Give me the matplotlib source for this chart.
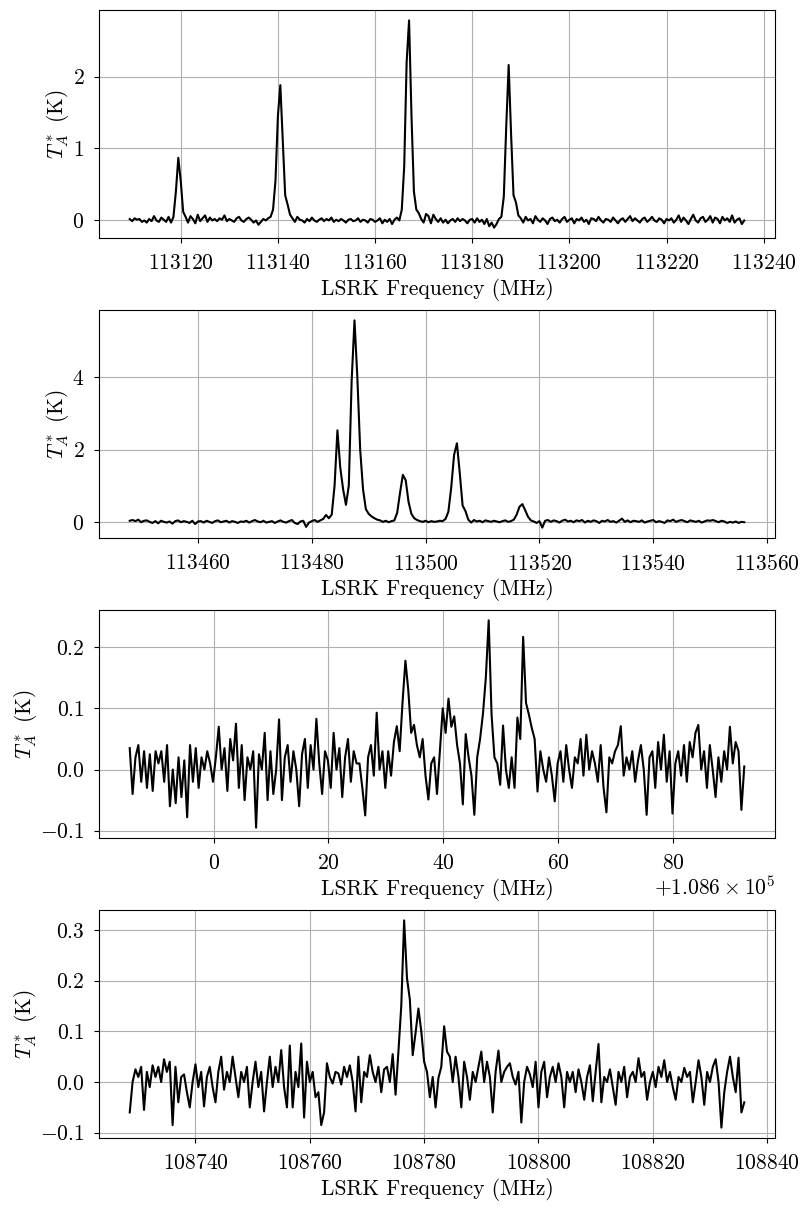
import numpy as np
import matplotlib
matplotlib.use("Agg")
import matplotlib.pyplot as plt
from matplotlib.transforms import ScaledTranslation

plt.rcParams['font.family'] = 'serif'
plt.rcParams['font.serif'] = ['cmr10']
plt.rcParams['mathtext.fontset'] = 'cm'
plt.rcParams['axes.formatter.use_mathtext'] = True
plt.rcParams['font.size'] = 15.5
plt.rcParams['xtick.major.pad'] = 8
plt.rcParams['ytick.major.pad'] = 7

# ---------------- data (LSRK frequency in MHz, T_A^* in K) ----------------
f1_start, f1_step = 113109.5, 0.5
t1 = [0.02, -0.01, 0.03, 0.01, 0.02, -0.02, 0.0, -0.03, 0.02, -0.01, 0.06, 0.0, -0.02, 0.04, 0.01, -0.02, 0.05, -0.03, 0.05,
      0.40, 0.87, 0.55, 0.12, 0.05,
      -0.03, 0.06, 0.02, -0.04, 0.08, -0.01, 0.03, 0.07, -0.02, 0.04, 0.0, 0.02, -0.01, 0.03, 0.01, 0.07, -0.01, 0.02, 0.0, -0.02,
      0.03, 0.05, 0.0, -0.02, 0.02, 0.04, 0.01, -0.03, 0.0, -0.06, -0.02, 0.02, 0.0, 0.03,
      0.05, 0.15, 0.55, 1.45, 1.88, 1.10, 0.35, 0.22, 0.08,
      0.03, -0.02, 0.05, 0.01, 0.0, -0.03, 0.02, -0.01, 0.04, 0.0, -0.02, 0.01, 0.03, -0.01, 0.02, 0.0, 0.04, -0.02, 0.01, -0.01,
      0.02, 0.0, -0.03, 0.01, 0.02, -0.01, 0.0, 0.03, -0.02, 0.01, 0.0, -0.03, 0.02, 0.01, -0.02, 0.0, 0.03, -0.04, 0.01, -0.02,
      0.02, -0.05, 0.01, 0.04, 0.0,
      0.15, 0.75, 2.2, 2.78, 1.45, 0.40, 0.15, 0.10,
      0.02, -0.03, 0.09, 0.06, -0.04, 0.08, 0.02, -0.02, 0.03, -0.03, 0.01, -0.04, 0.0, 0.02, -0.02, 0.03, -0.01, 0.02, 0.0, -0.04,
      0.01, 0.02, -0.03, 0.03, -0.02, 0.01, -0.05, 0.02, -0.08, -0.03, -0.10, -0.05, 0.02,
      0.05, 0.33, 1.3, 2.16, 1.2, 0.35, 0.25, 0.07,
      0.03, -0.03, 0.05, 0.0, 0.02, -0.04, 0.06, 0.01, -0.02, 0.03, 0.0, -0.05, 0.02, 0.04, -0.01, 0.01, -0.03, 0.02, 0.05, -0.02,
      0.01, 0.03, -0.04, 0.02, 0.0, 0.04, -0.02, 0.01, -0.05, 0.03, 0.02, -0.01, 0.05, 0.0, -0.03, 0.02, 0.01, -0.02, 0.04, 0.0,
      -0.04, 0.01, 0.03, -0.02, 0.02, 0.06, -0.01, 0.03, 0.0, -0.03, 0.02, 0.04, -0.02, 0.01, 0.05, 0.0, -0.02, 0.03, 0.01, -0.04,
      0.02, 0.0, 0.03, -0.03, 0.01, 0.07, -0.02, 0.04, 0.0, -0.05, 0.02, 0.08, 0.0, -0.03, 0.03, 0.05, -0.02, 0.01, 0.06, -0.03,
      0.04, 0.02, -0.04, 0.05, 0.0, 0.03, -0.02, 0.07, -0.03, 0.01, 0.03, -0.05, 0.0]

f2_start, f2_step = 113448.0, 0.5
t2 = [0.03, 0.05, 0.02, 0.06, -0.01, 0.03, 0.04, 0.0, -0.03, 0.02, -0.04, 0.03, 0.0, -0.02, 0.01, -0.05, 0.02, 0.04, -0.01, 0.02,
      0.0, -0.03, 0.03, -0.06, 0.01, 0.02, -0.02, 0.03, 0.0, -0.03, 0.02, 0.04, -0.01, 0.01, 0.03, -0.02, 0.02, 0.0, -0.03, 0.01,
      0.0, 0.03, -0.02, 0.02, 0.05, 0.01, -0.01, 0.03, -0.02, 0.0, 0.02, -0.03, 0.01, 0.04, 0.0, -0.02, 0.02, 0.05, -0.03, -0.06,
      0.01, 0.03, -0.14, -0.02, 0.02, 0.05, 0.0, 0.04, 0.08, 0.19,
      0.10, 0.20, 1.0, 2.53, 1.5, 0.9, 0.47, 1.0, 3.9, 5.57, 4.0, 2.0, 0.9, 0.35, 0.22, 0.15, 0.10, 0.06,
      0.04, 0.0, 0.03, -0.01, 0.02, 0.04,
      0.25, 0.8, 1.3, 1.15, 0.55, 0.22, 0.10, 0.05,
      0.02, 0.0, 0.03, -0.01, 0.02, 0.0, 0.01, 0.03, 0.02, 0.08,
      0.28, 0.95, 1.85, 2.17, 1.35, 0.45, 0.30, 0.06,
      -0.02, 0.05, 0.01, 0.03, -0.01, 0.04, 0.02, 0.0, 0.03, 0.01, -0.01, 0.02, 0.04, 0.0, 0.02, 0.06,
      0.20, 0.42, 0.49, 0.32, 0.14, 0.04,
      0.01, -0.03, 0.02, -0.16, 0.03, 0.05, 0.0, 0.04, 0.02, -0.02, 0.03, 0.06, 0.01, 0.03, -0.01, 0.04, 0.02, 0.05, -0.02, 0.03,
      0.0, 0.04, 0.02, -0.03, 0.03, 0.01, 0.05, 0.0, 0.02, -0.02, 0.03, 0.09, 0.0, 0.04, -0.01, 0.03, 0.02, 0.0, 0.04, -0.02,
      0.01, 0.03, 0.05, -0.01, 0.02, 0.0, -0.03, 0.04, 0.02, 0.06, 0.0, 0.03, 0.05, 0.02, -0.01, 0.04, 0.02, 0.0, 0.03, -0.02,
      0.01, 0.04, 0.03, 0.05, 0.02, -0.01, 0.03, 0.01, -0.03, 0.0, -0.02, 0.01, -0.03, 0.0, -0.01]

f3_start, f3_step = 108585.4, 0.5
t3 = [0.035, -0.04, 0.02, 0.04, -0.02, 0.03, -0.03, 0.025, -0.035, 0.03,
      0.01, 0.03, -0.02, 0.04, -0.06, 0.0, -0.055, 0.02, -0.045, 0.015,
      -0.078, 0.04, -0.02, 0.035, -0.03, 0.02, 0.0, 0.03, 0.01, -0.02,
      0.02, 0.07, 0.0, 0.035, -0.035, 0.05, 0.015, 0.075, -0.03, 0.04,
      -0.05, 0.02, 0.0, 0.03, -0.095, 0.025, 0.0, 0.06, -0.05, 0.03,
      -0.04, 0.0, 0.082, -0.05, 0.02, 0.04, -0.02, 0.03, 0.0, -0.06,
      0.025, 0.05, -0.03, 0.04, 0.0, 0.083, 0.01, -0.04, 0.03, 0.015,
      -0.03, 0.06, 0.0, 0.035, -0.045, 0.02, 0.05, -0.02, 0.03, 0.01,
      0.01, -0.03, -0.075, 0.02, 0.04, -0.01, 0.093, 0.0, 0.03, -0.03,
      0.03, -0.01, 0.045, 0.071, 0.03, 0.11, 0.178, 0.13, 0.06, 0.073,
      0.04, 0.02, 0.05, -0.01, -0.049, 0.01, 0.02, -0.04, 0.03, 0.10,
      0.06, 0.116, 0.07, 0.087, 0.04, 0.01, -0.057, 0.058, 0.02, -0.01,
      -0.074, 0.02, 0.05, 0.091, 0.15, 0.244, 0.09, 0.02, 0.01, -0.025,
      0.072, 0.0, -0.03, 0.02, -0.03, 0.085, 0.05, 0.217, 0.109, 0.09,
      0.068, 0.05, -0.036, 0.03, 0.0, -0.02, 0.02, -0.01, -0.052, 0.01,
      0.03, -0.02, 0.04, 0.0, -0.03, 0.02, 0.01, 0.05, -0.01, 0.057,
      0.0, 0.03, 0.01, -0.02, 0.04, -0.03, -0.07, 0.02, 0.01, 0.03,
      0.04, 0.071, -0.01, 0.02, 0.0, 0.03, -0.02, 0.015, 0.04, 0.0,
      -0.074, 0.02, 0.03, -0.03, 0.045, 0.0, 0.057, -0.02, 0.03, -0.072,
      0.01, 0.03, -0.01, 0.04, -0.02, 0.045, 0.02, 0.06, 0.073, 0.0,
      0.03, -0.03, 0.04, 0.0, -0.045, 0.02, -0.02, 0.03, 0.0, 0.07,
      0.01, 0.045, 0.03, -0.066, 0.005]

f4_start, f4_step = 108728.5, 0.5
t4 = [-0.06, 0.0, 0.025, 0.01, 0.03, -0.055, 0.02, -0.01, 0.033, 0.01,
      0.03, 0.0, 0.045, 0.02, 0.04, -0.085, 0.03, -0.04, 0.01, 0.015,
      -0.02, -0.05, 0.0, 0.035, -0.01, 0.02, -0.048, 0.01, 0.03, -0.01,
      -0.04, 0.02, 0.05, -0.015, 0.02, 0.0, 0.05, 0.01, -0.03, 0.02,
      0.0, 0.03, -0.05, 0.0, 0.04, -0.01, 0.02, -0.058, 0.0, 0.05,
      -0.01, 0.03, 0.0, 0.063, -0.01, -0.05, 0.072, -0.05, 0.02, -0.01,
      0.076, -0.07, 0.04, 0.0, 0.02, -0.03, -0.02, -0.085, -0.06, 0.037,
      0.01, -0.003, 0.02, 0.017, -0.005, 0.03, 0.01, 0.033, 0.0, -0.058,
      0.05, -0.04, 0.02, 0.01, 0.053, 0.02, 0.0, 0.03, -0.02, 0.025,
      0.03, 0.0, 0.055, -0.025, 0.06, 0.15, 0.319, 0.205, 0.163, 0.053,
      0.097, 0.145, 0.10, 0.04, 0.02, -0.03, 0.01, -0.05, 0.008, 0.03,
      0.11, 0.06, 0.05, 0.0, 0.05, 0.01, -0.05, 0.04, 0.01, -0.035,
      0.02, 0.0, 0.03, 0.06, 0.0, 0.04, 0.01, -0.06, 0.02, 0.062,
      0.0, 0.02, 0.03, 0.037, 0.01, -0.005, 0.02, -0.08, 0.0, 0.03,
      0.015, -0.01, 0.04, -0.05, 0.02, 0.04, -0.03, 0.01, 0.03, 0.0,
      0.037, 0.01, -0.05, 0.02, 0.0, 0.02, -0.02, 0.025, 0.0, -0.035,
      0.01, 0.033, -0.038, 0.02, 0.075, -0.04, 0.01, 0.0, 0.025, -0.01,
      -0.045, 0.02, 0.0, 0.03, -0.03, 0.01, 0.02, 0.0, 0.047, 0.01,
      0.02, -0.035, 0.0, 0.02, -0.01, 0.03, 0.01, 0.043, 0.0, 0.02,
      -0.01, -0.035, 0.01, 0.0, 0.028, 0.01, 0.02, -0.04, 0.0, 0.043,
      0.01, -0.045, 0.02, 0.0, 0.03, 0.045, 0.0, -0.09, -0.02, 0.02,
      0.05, 0.01, -0.02, 0.048, -0.06, -0.04]

spectra = [(f1_start, f1_step, t1), (f2_start, f2_step, t2),
           (f3_start, f3_step, t3), (f4_start, f4_step, t4)]

# ---------------- figure ----------------
W, H = 811, 1211
fig = plt.figure(figsize=(W / 100, H / 100), dpi=100)
left_px, right_px = 99, 775
tops = [10, 310, 610, 910]
h_px = 228

for top, (fs, st, tt) in zip(tops, spectra):
    ax = fig.add_axes([left_px / W, 1 - (top + h_px) / H,
                       (right_px - left_px) / W, h_px / H])
    tt = np.asarray(tt)
    ff = fs + st * np.arange(len(tt))
    ax.plot(ff, tt, color='black', lw=1.5)
    ax.grid(True)
    ax.set_axisbelow(True)
    ax.set_xlabel('LSRK Frequency (MHz)', labelpad=3)
    ax.set_ylabel(r'$T_A^*$ (K)', labelpad=1)
    off = ax.xaxis.get_offset_text()
    off.set_transform(off.get_transform() + ScaledTranslation(0, 3 / 72, fig.dpi_scale_trans))

fig.savefig('out.png', dpi=100)
